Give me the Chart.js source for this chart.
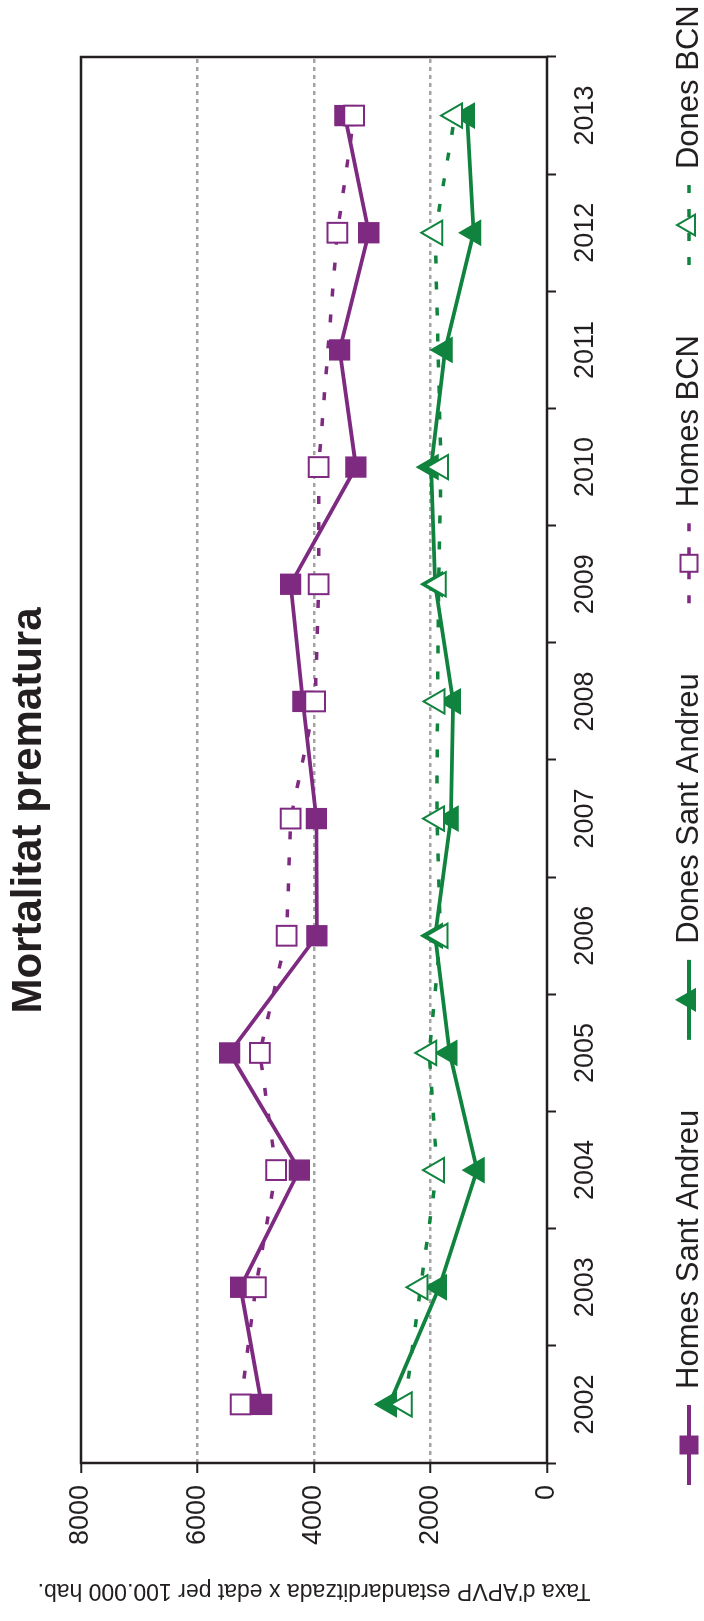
<!DOCTYPE html>
<html>
<head>
<meta charset="utf-8">
<script src="https://cdn.jsdelivr.net/npm/chart.js@4.4.1/dist/chart.umd.min.js"></script>
<style>
  html, body { margin: 0; padding: 0; background: #fff; }
  body { width: 704px; height: 1621px; overflow: hidden; position: relative; }
  /* the chart is drawn landscape and turned a quarter left */
  #wrap { position: absolute; left: 0; top: 0; width: 1621px; height: 704px;
          transform-origin: 0 0; transform: translateY(1621px) rotate(-90deg); }
</style>
</head>
<body>
<div id="wrap"><canvas id="myChart" width="1621" height="704"></canvas></div>
<script>
var years = ['2002','2003','2004','2005','2006','2007','2008','2009','2010','2011','2012','2013'];
var homesSantAndreu = [4900, 5260, 4250, 5450, 3950, 3960, 4190, 4400, 3280, 3560, 3060, 3470];
var donesSantAndreu = [2710, 1850, 1200, 1670, 1920, 1650, 1610, 1920, 1990, 1750, 1260, 1370];
var homesBCN = [5260, 5000, 4650, 4930, 4470, 4400, 3980, 3920, 3920, null, 3600, 3310];
var donesBCN = [2440, 2170, 1890, 2020, 1830, 1890, 1880, 1860, 1820, null, 1920, 1580];
var yTicks = [0, 2000, 4000, 6000, 8000];

var purple = '#7e2a80';
var green = '#10843e';
var ink = '#231f20';
var FONT = '"Liberation Sans", Arial, Helvetica, sans-serif';
Chart.defaults.font.family = FONT;
Chart.defaults.color = ink;

// black box round the plot area
var framePlugin = {
  id: 'frame',
  beforeDatasetsDraw: function(chart) {
    var a = chart.chartArea, ctx = chart.ctx;
    ctx.save();
    ctx.strokeStyle = ink;
    ctx.lineWidth = 2.5;
    ctx.strokeRect(a.left, a.top, a.right - a.left, a.bottom - a.top);
    ctx.restore();
  }
};

function drawMarker(ctx, style, x, y, r, fill, stroke, bw) {
  ctx.beginPath();
  if (style === 'rect') {
    var s = r * Math.SQRT1_2;
    ctx.rect(x - s, y - s, 2 * s, 2 * s);
  } else {
    ctx.moveTo(x, y - r);
    ctx.lineTo(x + r * Math.sin(Math.PI * 2 / 3), y - r * Math.cos(Math.PI * 2 / 3));
    ctx.lineTo(x + r * Math.sin(Math.PI * 4 / 3), y - r * Math.cos(Math.PI * 4 / 3));
    ctx.closePath();
  }
  ctx.fillStyle = fill;
  ctx.fill();
  ctx.lineWidth = bw;
  ctx.strokeStyle = stroke;
  ctx.setLineDash([]);
  ctx.stroke();
}

// legend: line + marker + label, in one row under the chart
var legendPlugin = {
  id: 'lineLegend',
  afterDraw: function(chart) {
    var ctx = chart.ctx;
    var y = chart.height - 15;
    var x = 136;
    ctx.save();
    ctx.font = '31px ' + FONT;
    ctx.textBaseline = 'middle';
    chart.data.datasets.forEach(function(ds) {
      ctx.beginPath();
      ctx.setLineDash(ds.borderDash ? [8, 16] : []);
      ctx.lineDashOffset = 0;
      ctx.strokeStyle = ds.borderColor;
      ctx.lineWidth = ds.borderWidth;
      ctx.moveTo(x, y);
      ctx.lineTo(x + 80, y);
      ctx.stroke();
      drawMarker(ctx, ds.pointStyle, x + 40, y, 12, ds.pointBackgroundColor, ds.borderColor, 2);
      ctx.fillStyle = ink;
      ctx.fillText(ds.label, x + 96, y);
      x += 96 + ctx.measureText(ds.label).width + 70;
    });
    ctx.restore();
  }
};

var ctx = document.getElementById('myChart');
var myChart = new Chart(ctx, {
  type: 'line',
  data: {
    labels: years,
    datasets: [{
      label: 'Homes Sant Andreu',
      data: homesSantAndreu,
      borderColor: purple,
      borderWidth: 3.8,
      pointStyle: 'rect',
      pointRadius: 14,
      pointBorderWidth: 1.5,
      pointBackgroundColor: purple,
      order: 2
    }, {
      label: 'Dones Sant Andreu',
      data: donesSantAndreu,
      borderColor: green,
      borderWidth: 3.8,
      pointStyle: 'triangle',
      pointRadius: 14,
      pointBorderWidth: 1.5,
      pointBackgroundColor: green,
      order: 2
    }, {
      label: 'Homes BCN',
      data: homesBCN,
      borderColor: purple,
      borderWidth: 3.5,
      borderDash: [8, 18],
      spanGaps: true,
      pointStyle: 'rect',
      pointRadius: 14,
      pointBorderWidth: 2,
      pointBackgroundColor: '#fff',
      order: 1
    }, {
      label: 'Dones BCN',
      data: donesBCN,
      borderColor: green,
      borderWidth: 3.5,
      borderDash: [8, 18],
      spanGaps: true,
      pointStyle: 'triangle',
      pointRadius: 14,
      pointBorderWidth: 2,
      pointBackgroundColor: '#fff',
      order: 1
    }]
  },
  options: {
    responsive: false,
    animation: false,
    devicePixelRatio: 1,
    layout: { padding: { left: 0, right: 0, top: 0, bottom: 97 } },
    elements: { line: { tension: 0 } },
    plugins: {
      legend: { display: false },
      tooltip: { enabled: false },
      title: {
        display: true,
        text: 'Mortalitat prematura',
        color: ink,
        font: { size: 42, weight: 'bold', lineHeight: 1.2 },
        padding: { top: 4, bottom: 26.6 }
      }
    },
    scales: {
      x: {
        offset: true,
        grid: { offset: true, drawOnChartArea: false, tickLength: 9, tickColor: ink, tickWidth: 2 },
        border: { display: false },
        ticks: { color: ink, font: { size: 27 }, padding: 13, maxRotation: 0, autoSkip: false },
        afterFit: function(s) { s.height = 60; }
      },
      y: {
        min: yTicks[0],
        max: yTicks[yTicks.length - 1],
        afterBuildTicks: function(s) { s.ticks = yTicks.map(function(v) { return { value: v }; }); },
        grid: {
          color: function(c) {
            return (c.tick && (c.tick.value === 0 || c.tick.value === 8000)) ? 'rgba(0,0,0,0)' : '#a3a3a3';
          },
          lineWidth: 2.5,
          tickLength: 10,
          tickColor: ink,
          tickWidth: 2
        },
        border: { display: false, dash: [4, 4] },
        ticks: {
          color: ink, font: { size: 27 }, padding: 12,
          callback: function(v) { return String(v); }
        },
        title: {
          display: true,
          text: "Taxa d'APVP estandarditzada x edat per 100.000 hab.",
          color: ink,
          font: { size: 23 },
          padding: { top: 17, bottom: 0 }
        },
        afterFit: function(s) { s.width = 158; }
      },
      // empty strip on the right so the title stays centred on the page
      spare: {
        position: 'right',
        display: true,
        grid: { display: false },
        border: { display: false },
        ticks: { display: false },
        afterFit: function(s) { s.width = 57; }
      }
    }
  },
  plugins: [framePlugin, legendPlugin]
});
</script>
</body>
</html>
